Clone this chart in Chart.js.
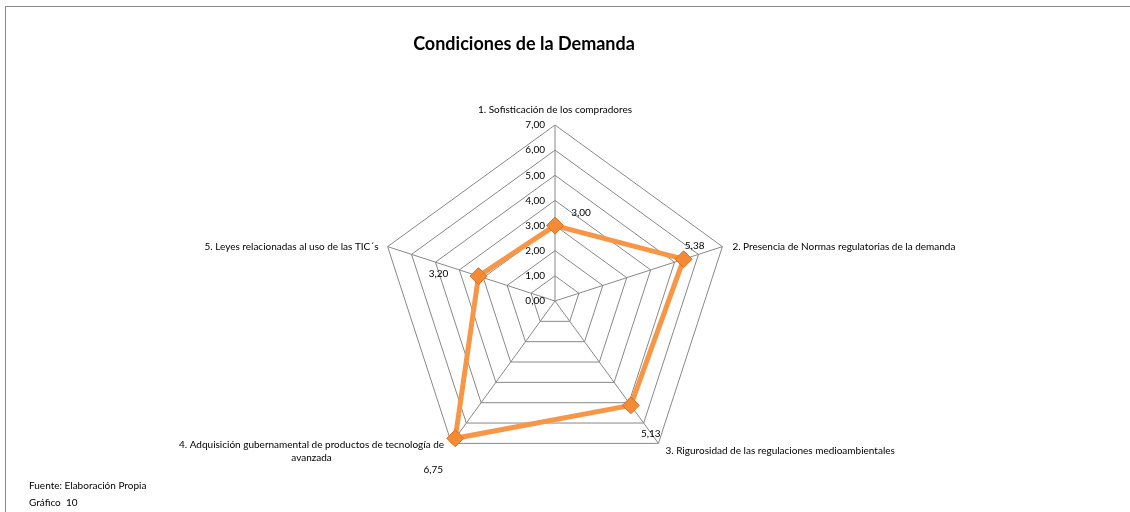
<!DOCTYPE html>
<html>
<head>
<meta charset="utf-8">
<script src="https://cdn.jsdelivr.net/npm/chart.js@4/dist/chart.umd.min.js"></script>
<style>
  body { margin: 0; background: #fff; }
  #wrap { position: relative; width: 1130px; height: 512px; }
  #frame { position: absolute; left: 5px; top: 6px; right: 0; bottom: 0; border-top: 1px solid #8a8a8a; border-left: 1px solid #8a8a8a; }
  canvas { position: absolute; left: 0; top: 0; }
</style>
</head>
<body>
<div id="wrap">
  <div id="frame"></div>
  <canvas id="radar" width="1130" height="512"></canvas>
</div>
<script>
// Chart data
const categories = [
  ['1. Sofisticación de los compradores'],
  ['2. Presencia de Normas regulatorias de la demanda'],
  ['3. Rigurosidad de las regulaciones medioambientales'],
  ['4. Adquisición gubernamental de productos de tecnología de', 'avanzada'],
  ['5. Leyes relacionadas al uso de las TIC´s']
];
const values = [3.00, 5.38, 5.13, 6.75, 3.20];
const valueLabels = ['3,00', '5,38', '5,13', '6,75', '3,20'];
const tickValues = [0, 1, 2, 3, 4, 5, 6, 7];
const tickLabels = ['0,00', '1,00', '2,00', '3,00', '4,00', '5,00', '6,00', '7,00'];

const titleText = 'Condiciones de la Demanda';
const footerLines = ['Fuente: Elaboración Propia', 'Gráfico  10'];

// label placement relative to the vertex / point (layout only)
const categoryPlacement = [
  { dx: 0, dy: -15, align: 'center' },
  { dx: 10, dy: 0, align: 'left' },
  { dx: 7, dy: 7, align: 'left' },
  { dx: -140, dy: 1, align: 'center' },
  { dx: -9, dy: 0, align: 'right' }
];
const valueOffsets = [[26, -13], [11, -13], [20, 28], [-22, 31], [-40, -2]];

const FONT = 'Lato, "Open Sans", sans-serif';
const TEXT_COLOR = '#000';

// Draws all texts from the radial scale positions
const labelsPlugin = {
    id: 'labels',
    afterDraw(chart) {
        const ctx = chart.ctx;
        const scale = chart.scales.r;
        ctx.save();
        ctx.fillStyle = TEXT_COLOR;
        ctx.textBaseline = 'middle';

        // tick labels on the first axis
        ctx.font = '10px ' + FONT;
        ctx.textAlign = 'right';
        tickValues.forEach((v, i) => {
            const p = scale.getPointPositionForValue(0, v);
            ctx.fillText(tickLabels[i], p.x - 10, p.y);
        });

        // category labels at each vertex
        categories.forEach((lines, i) => {
            const p = scale.getPointPosition(i, scale.drawingArea);
            const pl = categoryPlacement[i];
            ctx.textAlign = pl.align;
            lines.forEach((line, j) => {
                ctx.fillText(line, p.x + pl.dx, p.y + pl.dy + j * 13.5);
            });
        });

        // value labels next to each point
        ctx.textAlign = 'center';
        values.forEach((v, i) => {
            const p = scale.getPointPositionForValue(i, v);
            ctx.fillText(valueLabels[i], p.x + valueOffsets[i][0], p.y + valueOffsets[i][1]);
        });

        // title
        ctx.font = 'bold 18px ' + FONT;
        ctx.fillText(titleText, 524, 44);

        // footer
        ctx.font = '10px ' + FONT;
        ctx.textAlign = 'left';
        footerLines.forEach((line, j) => {
            ctx.fillText(line, 29, 486 + j * 17);
        });
        ctx.restore();
    }
};

new Chart(document.getElementById('radar'), {
    type: 'radar',
    data: {
        labels: categories,
        datasets: [{
            label: titleText,
            data: values,
            borderColor: '#F79646',
            borderWidth: 5,
            fill: false,
            pointStyle: 'rectRot',
            pointRadius: 8.5,
            pointBackgroundColor: '#F58A36',
            pointBorderColor: '#DD7020',
            pointBorderWidth: 1
        }]
    },
    options: {
        responsive: false,
        animation: false,
        layout: { padding: { top: 125, bottom: 34, left: 200, right: 220 } },
        plugins: {
            legend: { display: false },
            tooltip: { enabled: false }
        },
        scales: {
            r: {
                min: 0,
                max: 7,
                ticks: { display: false, stepSize: 1 },
                pointLabels: { display: false },
                grid: { color: '#888888', lineWidth: 1 },
                angleLines: { color: '#888888', lineWidth: 1 }
            }
        }
    },
    plugins: [labelsPlugin]
});
</script>
</body>
</html>
